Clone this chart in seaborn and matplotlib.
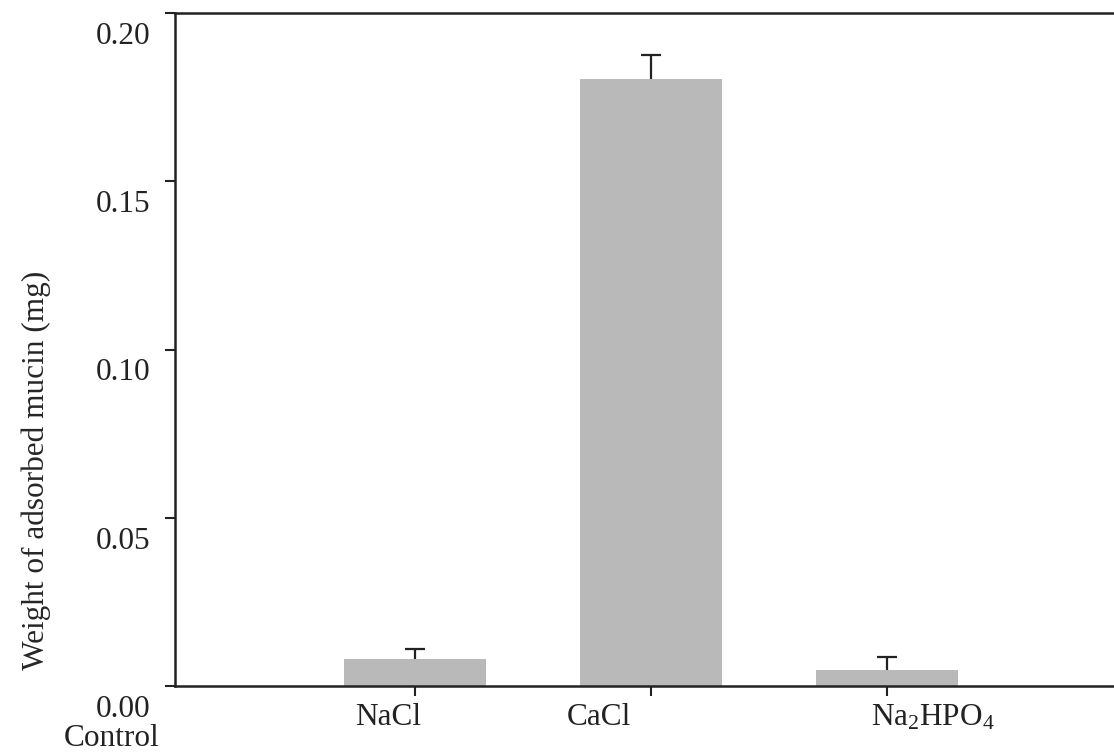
import matplotlib
matplotlib.use("Agg")
import matplotlib.pyplot as plt
from matplotlib.transforms import ScaledTranslation
import seaborn as sns
import pandas as pd
import numpy as np

categories = ["Control", "NaCl", "CaCl", "Na$_2$HPO$_4$"]
values = [0.0, 0.0080, 0.1805, 0.0048]
errors_up = [0.0, 0.0030, 0.0070, 0.0038]
yticks = [0.00, 0.05, 0.10, 0.15, 0.20]
ytick_labels = ["0.00", "0.05", "0.10", "0.15", "0.20"]
ylabel = "Weight of adsorbed mucin (mg)"

sns.set_style("ticks")
plt.rcParams["font.family"] = ["Liberation Serif", "DejaVu Serif"]
plt.rcParams["mathtext.fontset"] = "custom"
plt.rcParams["mathtext.rm"] = "Liberation Serif"
plt.rcParams["mathtext.it"] = "Liberation Serif:italic"
plt.rcParams["mathtext.default"] = "regular"

fig = plt.figure(figsize=(11.14, 7.54), dpi=100)
ax = fig.add_axes([175 / 1114, 1 - 686 / 754, 1.0 - 175 / 1114 + 0.002, (686 - 13) / 754])

df = pd.DataFrame({"cat": categories, "val": values})
sns.barplot(data=df, x="cat", y="val", order=categories, color="#b9b9b9",
            saturation=1, width=0.6, errorbar=None, ax=ax, edgecolor="none")

xpos = np.arange(len(categories))
yerr = np.vstack([np.zeros(len(errors_up)), errors_up])
mask = np.array(errors_up) > 0
eb = ax.errorbar(xpos[mask], np.array(values)[mask], yerr=yerr[:, mask], fmt="none",
                 ecolor="#222222", elinewidth=1.6, capsize=7.5, capthick=1.6)
# keep only the upper caps
caplines = eb.lines[1]
if len(caplines) == 2:
    caplines[0].set_visible(False)

ax.set_xlim(-0.017, 3.97)
ax.set_ylim(0, 0.2)
ax.set_yticks(yticks)
ax.set_yticklabels(ytick_labels)
ax.set_xticks(xpos[1:])
ax.set_xticklabels(categories[1:])
ax.set_xlabel("")
ax.set_ylabel(ylabel, fontsize=22.5)
ax.yaxis.set_label_coords(-0.132, 0.32)

for side in ["left", "top", "bottom"]:
    ax.spines[side].set_visible(True)
    ax.spines[side].set_linewidth(1.8)
    ax.spines[side].set_color("#222222")
ax.spines["right"].set_visible(False)

ax.tick_params(axis="both", direction="out", length=7.5, width=1.5, color="#222222",
               labelsize=22.5, labelcolor="#222222")
ax.tick_params(axis="y", pad=10)
ax.tick_params(axis="x", pad=5)

offset = ScaledTranslation(0, -20 / 100, fig.dpi_scale_trans)
for lab in ax.get_yticklabels():
    lab.set_transform(lab.get_transform() + offset)

x_shifts_px = [-27, -52, 46]
for lab, dx in zip(ax.get_xticklabels(), x_shifts_px):
    lab.set_transform(lab.get_transform() + ScaledTranslation(dx / 100, 0, fig.dpi_scale_trans))

ax.text(112 / 1114, 1 - 738 / 754, "Control", transform=fig.transFigure,
        ha="center", va="center", fontsize=22.5, color="#222222")

fig.savefig("out.png", dpi=100)
